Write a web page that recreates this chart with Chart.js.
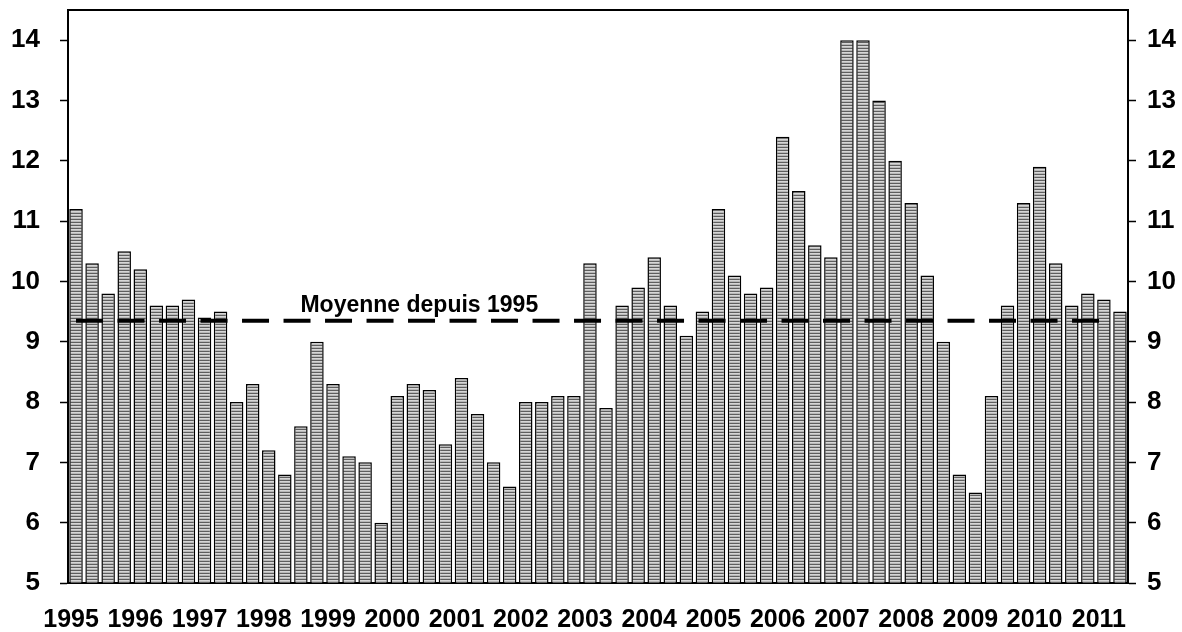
<!DOCTYPE html>
<html>
<head>
<meta charset="utf-8">
<script src="https://cdn.jsdelivr.net/npm/chart.js@4/dist/chart.umd.min.js"></script>
<style>
  html, body { margin: 0; padding: 0; background: #fff; }
  #chart { display: block; }
</style>
</head>
<body>
<canvas id="chart" width="1182" height="632"></canvas>
<script>
// quarters 1995T1 .. 2011T2
const years = ["1995", "1996", "1997", "1998", "1999", "2000", "2001", "2002", "2003",
  "2004", "2005", "2006", "2007", "2008", "2009", "2010", "2011"];
const quarters = [];
years.forEach(y => {
  ["T1", "T2", "T3", "T4"].forEach(q => quarters.push(y + q));
});
quarters.length = 66;

const values = [
  11.2, 10.3, 9.8, 10.5,
  10.2, 9.6, 9.6, 9.7,
  9.4, 9.5, 8.0, 8.3,
  7.2, 6.8, 7.6, 9.0,
  8.3, 7.1, 7.0, 6.0,
  8.1, 8.3, 8.2, 7.3,
  8.4, 7.8, 7.0, 6.6,
  8.0, 8.0, 8.1, 8.1,
  10.3, 7.9, 9.6, 9.9,
  10.4, 9.6, 9.1, 9.5,
  11.2, 10.1, 9.8, 9.9,
  12.4, 11.5, 10.6, 10.4,
  14.0, 14.0, 13.0, 12.0,
  11.3, 10.1, 9.0, 6.8,
  6.5, 8.1, 9.6, 11.3,
  11.9, 10.3, 9.6, 9.8,
  9.7, 9.5
];

const moyenne = 9.35;
const moyenneLabel = "Moyenne depuis 1995";
const moyenneStart = "1995T1";
const moyenneEnd = "2011T1";

const yMin = 5;
const yMax = 14.5;

const font = "'Liberation Sans', Arial, sans-serif";

// striped grey fill like the original
function stripes() {
  const c = document.createElement("canvas");
  c.width = 4;
  c.height = 3;
  const g = c.getContext("2d");
  g.fillStyle = "#d6d6d6";
  g.fillRect(0, 0, 4, 3);
  g.fillStyle = "#5e5e5e";
  g.fillRect(0, 0, 4, 1);
  g.fillStyle = "#b8b8b8";
  g.fillRect(0, 2, 4, 1);
  return g.createPattern(c, "repeat");
}

const ctx = document.getElementById("chart").getContext("2d");

const frame = {
  id: "frame",
  afterDraw(chart) {
    const { ctx, chartArea, scales } = chart;
    ctx.save();
    ctx.strokeStyle = "#000";
    ctx.lineWidth = 2;
    ctx.beginPath();
    ctx.moveTo(chartArea.left, chartArea.top);
    ctx.lineTo(chartArea.right, chartArea.top);
    ctx.stroke();

    ctx.fillStyle = "#000";
    ctx.font = "bold 23px " + font;
    ctx.textAlign = "center";
    ctx.textBaseline = "alphabetic";
    ctx.fillText(moyenneLabel, scales.x.getPixelForValue(quarters.indexOf("2000T2")) + 6,
      scales.y.getPixelForValue(moyenne) - 9);
    ctx.restore();
  }
};

const noPad = s => {
  s.paddingTop = 0;
  s.paddingBottom = 0;
};

new Chart(ctx, {
  type: "bar",
  data: {
    labels: quarters,
    datasets: [
      {
        type: "line",
        data: [{ x: moyenneStart, y: moyenne }, { x: moyenneEnd, y: moyenne }],
        borderColor: "#000",
        borderWidth: 4,
        borderDash: [27, 14.5],
        borderCapStyle: "butt",
        pointRadius: 0,
        fill: false,
        order: 0
      },
      {
        data: values,
        backgroundColor: stripes(),
        borderColor: "#000",
        borderWidth: 1.5,
        categoryPercentage: 1,
        barPercentage: 0.84,
        order: 1
      }
    ]
  },
  options: {
    responsive: false,
    animation: false,
    devicePixelRatio: 1,
    layout: { padding: { top: 10, left: 0, right: 0, bottom: 0 } },
    plugins: {
      legend: { display: false },
      tooltip: { enabled: false }
    },
    scales: {
      x: {
        grid: { display: false, drawTicks: false },
        border: { display: true, color: "#000", width: 2 },
        ticks: {
          autoSkip: false,
          maxRotation: 0,
          minRotation: 0,
          padding: 22,
          labelOffset: -5,
          color: "#000",
          font: { family: font, size: 25, weight: "bold" },
          callback: (v, i) => quarters[i].endsWith("T1") ? quarters[i].slice(0, 4) : ""
        },
        afterFit: s => {
          s.height = 49;
          s.paddingLeft = 0;
          s.paddingRight = 0;
        }
      },
      y: {
        position: "left",
        min: yMin,
        max: yMax,
        grid: { drawOnChartArea: false, drawTicks: true, tickLength: 8, tickColor: "#000", tickWidth: 1.5 },
        border: { display: true, color: "#000", width: 2 },
        ticks: {
          stepSize: 1,
          includeBounds: false,
          padding: 20,
          color: "#000",
          font: { family: font, size: 26, weight: "bold" }
        },
        afterFit: s => {
          s.width = 68;
          noPad(s);
        }
      },
      y2: {
        position: "right",
        min: yMin,
        max: yMax,
        grid: { drawOnChartArea: false, drawTicks: true, tickLength: 8, tickColor: "#000", tickWidth: 1.5 },
        border: { display: true, color: "#000", width: 2 },
        ticks: {
          stepSize: 1,
          includeBounds: false,
          padding: 11,
          color: "#000",
          font: { family: font, size: 26, weight: "bold" }
        },
        afterFit: s => {
          s.width = 54;
          noPad(s);
        }
      }
    }
  },
  plugins: [frame]
});
</script>
</body>
</html>
